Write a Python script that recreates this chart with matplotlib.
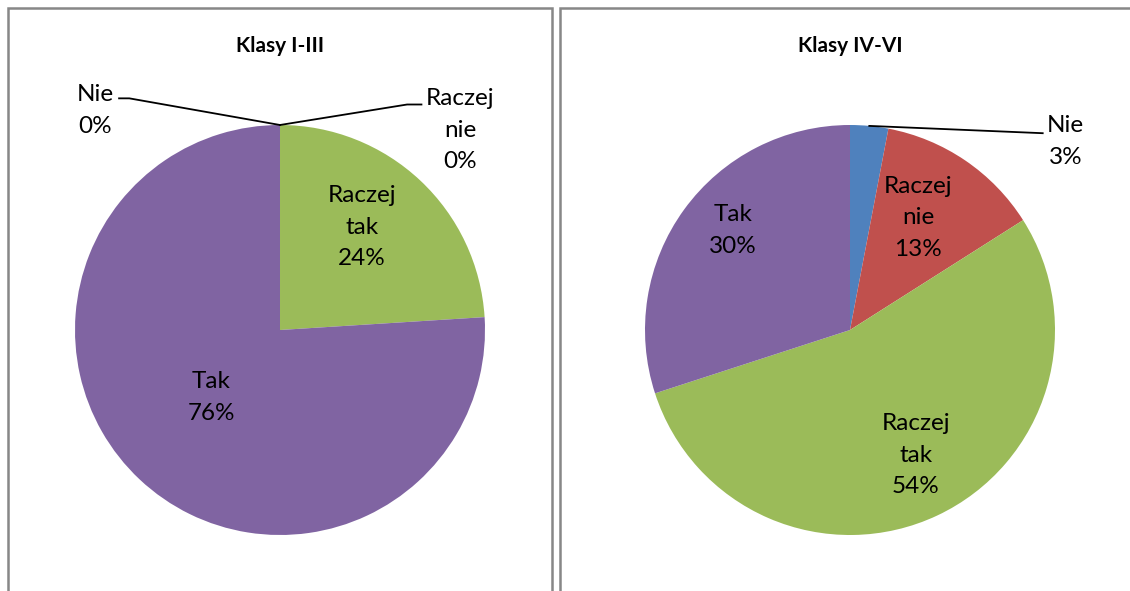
import numpy as np
import matplotlib
matplotlib.use('Agg')
import matplotlib.pyplot as plt
from matplotlib.patches import Rectangle

plt.rcParams['font.family'] = ['Lato', 'DejaVu Sans']

# Data
categories = ['Nie', 'Raczej nie', 'Raczej tak', 'Tak']
labels_pl = ['Nie', 'Raczej\nnie', 'Raczej\ntak', 'Tak']
colors = ['#4F81BD', '#C0504D', '#9BBB59', '#8064A2']

title_left = 'Klasy I-III'
values_left = [0, 0, 24, 76]

title_right = 'Klasy IV-VI'
values_right = [3, 13, 54, 30]

W, H = 1130, 591
fig = plt.figure(figsize=(W / 100, H / 100), dpi=100)

# panel borders (bottom runs off the image)
for x0, x1 in [(8, 552), (560, 1140)]:
    fig.patches.append(Rectangle((x0 / W, -0.05), (x1 - x0) / W, (H - 8) / H + 0.05,
                                 transform=fig.transFigure, fill=False,
                                 edgecolor='#878787', linewidth=1.8))

LABEL_FS = 17.5
LINESP = 1.62


def draw_pie(cx, title, values, inside, outside):
    r = 205
    ax = fig.add_axes([(cx - r) / W, (H - 330 - r) / H, 2 * r / W, 2 * r / H])
    wedges, _ = ax.pie(values, colors=colors, startangle=90, counterclock=False,
                       radius=1, wedgeprops=dict(linewidth=0))
    ax.set_xlim(-1, 1)
    ax.set_ylim(-1, 1)
    ax.set_aspect('equal')
    ax.axis('off')
    fig.text(cx / W, 1 - 46 / H, title, ha='center', va='center',
             fontsize=15, fontweight='bold')

    for i, w in enumerate(wedges):
        mid = np.deg2rad((w.theta1 + w.theta2) / 2)
        txt = labels_pl[i] + '\n' + f'{values[i]}%'
        if i in inside:
            dist, tweak = inside[i]
            a = mid + np.deg2rad(tweak)
            ax.text(dist * np.cos(a), dist * np.sin(a), txt, ha='center', va='center',
                    fontsize=LABEL_FS, linespacing=LINESP)
        elif i in outside:
            (ex, ey), (hx, hy), (tx, ty) = outside[i]
            x0, y0 = np.cos(mid), np.sin(mid)
            ax.plot([x0, ex, hx], [y0, ey, hy], color='black', lw=1.3,
                    clip_on=False, solid_joinstyle='miter')
            ax.text(tx, ty, txt, ha='center', va='center', fontsize=LABEL_FS,
                    linespacing=LINESP, clip_on=False)


draw_pie(280, title_left, values_left,
         inside={2: (0.64, 4.7), 3: (0.47, -2.2)},
         outside={0: ((-0.735, 1.13), (-0.785, 1.13), (-0.90, 1.07)),
                  1: ((0.62, 1.10), (0.69, 1.10), (0.88, 0.975))})

draw_pie(850, title_right, values_right,
         inside={1: (0.64, 2.9), 2: (0.69, 2.6), 3: (0.75, -4.3)},
         outside={0: ((0.94, 0.96), (0.94, 0.96), (1.05, 0.92))})

fig.savefig('out.png', dpi=100, facecolor='white')
